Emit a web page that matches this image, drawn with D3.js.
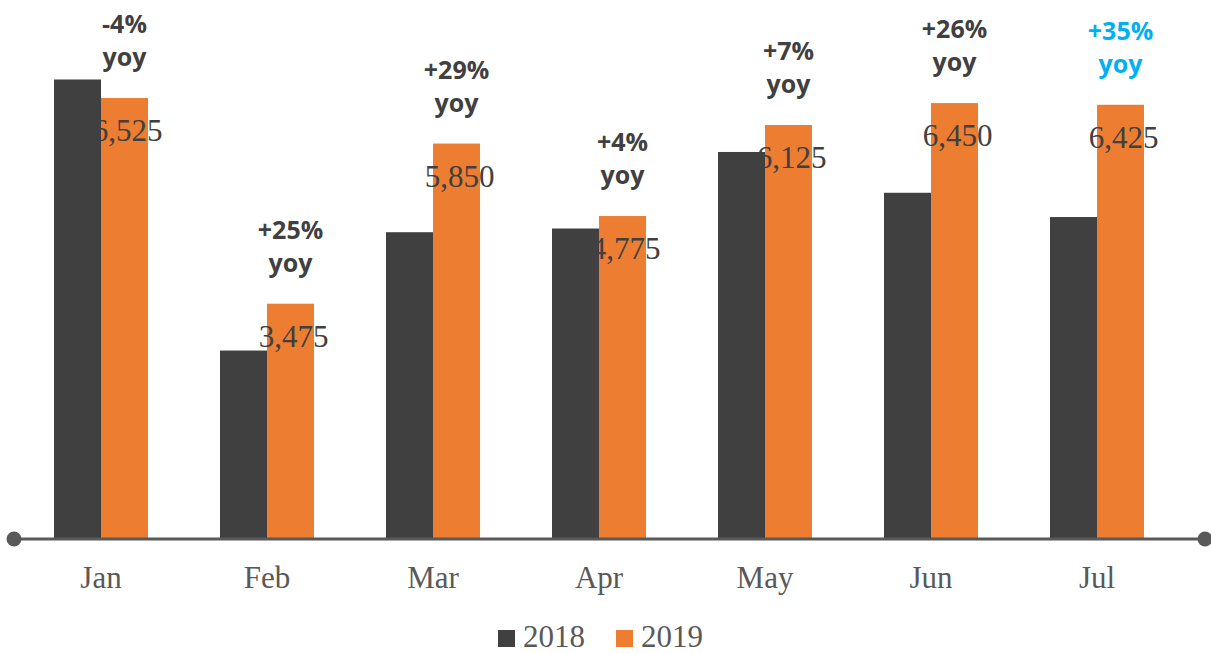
<!DOCTYPE html>
<html lang="en">
<head>
<meta charset="UTF-8">
<title>2018 vs 2019 by month</title>
<script src="https://cdn.jsdelivr.net/npm/d3@7"></script>
<style>
  body { margin: 0; background: #fff; }
  .val { font-family: 'Liberation Serif', serif; font-size: 31px; fill: #404040; }
  .yoy { font-family: 'Open Sans', sans-serif; font-weight: 700; font-size: 25px; fill: #404040; }
  .month { font-family: 'Liberation Serif', serif; font-size: 31px; fill: #595959; }
  .legend text { font-family: 'Liberation Serif', serif; font-size: 31px; fill: #595959; }
</style>
</head>
<body>
<svg id="chart" width="1211" height="654"></svg>
<script>
const months = ["Jan", "Feb", "Mar", "Apr", "May", "Jun", "Jul"];
const sales2018 = [6800, 2780, 4535, 4590, 5725, 5120, 4760];
const sales2019 = [6525, 3475, 5850, 4775, 6125, 6450, 6425];
const yoyLabels = ["-4%", "+25%", "+29%", "+4%", "+7%", "+26%", "+35%"];
const years = ["2018", "2019"];

const colors = {"2018": "#404040", "2019": "#ED7D31"};
const svg = d3.select("#chart");

const x = d3.scaleBand().domain(months).range([18, 1180]);
const sub = d3.scaleBand().domain(years).range([0, 94]);
const y = d3.scaleLinear().domain([0, 7000]).range([538, 66]);
const off = (x.bandwidth() - 94) / 2;

const rows = months.map((m, i) => ({m, i, v: {"2018": sales2018[i], "2019": sales2019[i]}}));

// bars
const g = svg.selectAll("g.month-g").data(rows).join("g")
  .attr("class", "month-g")
  .attr("transform", d => `translate(${x(d.m) + off},0)`);

g.selectAll("rect").data(d => years.map(k => ({k, v: d.v[k]}))).join("rect")
  .attr("x", d => sub(d.k))
  .attr("y", d => y(d.v))
  .attr("width", sub.bandwidth())
  .attr("height", d => y(0) - y(d.v))
  .attr("fill", d => colors[d.k]);

// value labels on 2019 bars
g.append("text").attr("class", "val")
  .attr("x", sub("2019") + sub.bandwidth() / 2 + 3)
  .attr("y", d => y(d.v["2019"]) + 43)
  .attr("text-anchor", "middle")
  .text(d => d3.format(",")(d.v["2019"]));

// yoy labels
const yt = g.append("text").attr("class", "yoy")
  .attr("text-anchor", "middle")
  .style("fill", d => d.i === months.length - 1 ? "#00B0F0" : null);
yt.append("tspan")
  .attr("x", sub("2019") + sub.bandwidth() / 2)
  .attr("y", d => y(d.v["2019"]) - 65)
  .text(d => yoyLabels[d.i]);
yt.append("tspan")
  .attr("x", sub("2019") + sub.bandwidth() / 2)
  .attr("y", d => y(d.v["2019"]) - 32)
  .text("yoy");

// axis line with end dots
svg.append("line")
  .attr("x1", 14).attr("x2", 1205)
  .attr("y1", y(0) + 1).attr("y2", y(0) + 1)
  .attr("stroke", "#595959").attr("stroke-width", 3);
svg.selectAll("circle.end").data([14, 1205]).join("circle")
  .attr("class", "end")
  .attr("cx", d => d).attr("cy", y(0) + 1).attr("r", 7.5)
  .attr("fill", "#595959");

// month labels
svg.selectAll("text.month").data(months).join("text")
  .attr("class", "month")
  .attr("x", d => x(d) + x.bandwidth() / 2)
  .attr("y", 588)
  .attr("text-anchor", "middle")
  .text(d => d);

// legend
const lg = svg.append("g").attr("class", "legend");
const li = lg.selectAll("g").data(years).join("g")
  .attr("transform", (d, i) => `translate(${498 + i * 118},630)`);
li.append("rect").attr("width", 17).attr("height", 17).attr("fill", d => colors[d]);
li.append("text").attr("x", 25).attr("y", 17).text(d => d);
</script>
</body>
</html>
